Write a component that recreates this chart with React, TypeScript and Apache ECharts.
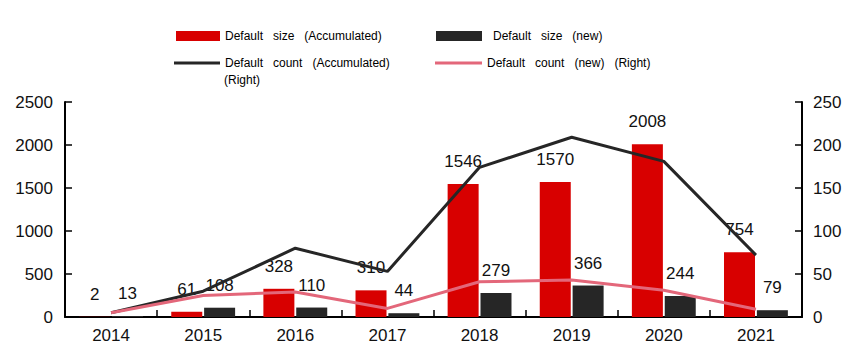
import React, { useEffect, useRef } from "react";
import * as echarts from "echarts";

const years = ["2014", "2015", "2016", "2017", "2018", "2019", "2020", "2021"];
const sizeAccumulated = [2, 61, 328, 310, 1546, 1570, 2008, 754];
const sizeNew = [13, 108, 110, 44, 279, 366, 244, 79];
const countAccumulated = [5, 30, 80, 53, 174, 209, 181, 72];
const countNew = [5, 25, 29, 10, 41, 43, 31, 9];

const NAME_SA = "Default   size   (Accumulated)";
const NAME_SN = "Default   size   (new)";
const NAME_CA = "Default   count   (Accumulated)";
const NAME_CN = "Default   count   (new)   (Right)";

const FONT = "Liberation Sans, Arial, sans-serif";
const RED = "#D80000";
const DARK = "#262626";
const PINK = "#E3677A";

export default function App() {
  const ref = useRef<HTMLDivElement>(null);
  useEffect(() => {
    if (!ref.current) return;
    document.body.style.margin = "0";
    const chart = echarts.init(ref.current, null, { renderer: "svg" });
    const legendText = { fontSize: 12, color: "#000", fontFamily: FONT };
    const labelStyle = {
      show: true,
      position: "top" as const,
      distance: 14,
      fontSize: 17,
      color: "#111",
      fontFamily: FONT,
    };
    const plain = (v: number) => String(v);
    chart.setOption({
      animation: false,
      backgroundColor: "#fff",
      legend: [
        {
          data: [{ name: NAME_SA, icon: "rect" }],
          left: 176,
          top: 30,
          padding: 0,
          itemWidth: 44,
          itemHeight: 10,
          textStyle: legendText,
        },
        {
          data: [{ name: NAME_SN, icon: "rect" }],
          left: 436,
          top: 30,
          padding: 0,
          itemWidth: 46,
          itemHeight: 10,
          textStyle: { ...legendText, padding: [0, 0, 0, 6] },
        },
        {
          data: [{ name: NAME_CA, icon: "rect" }],
          left: 174,
          top: 57,
          padding: 0,
          itemWidth: 46,
          itemHeight: 3,
          textStyle: legendText,
        },
        {
          data: [{ name: NAME_CN, icon: "rect" }],
          left: 435,
          top: 57,
          padding: 0,
          itemWidth: 47,
          itemHeight: 3,
          textStyle: legendText,
        },
      ],
      graphic: [
        {
          type: "text",
          left: 224,
          top: 74,
          style: { text: "(Right)", fontSize: 12, fill: "#000", fontFamily: FONT },
        },
      ],
      grid: { left: 65, right: 64, top: 102, bottom: 35 },
      xAxis: {
        type: "category",
        data: years,
        axisLine: { lineStyle: { color: "#000", width: 2 } },
        axisTick: { show: true, inside: true, length: 7, lineStyle: { color: "#000", width: 1.5 } },
        axisLabel: { color: "#111", fontSize: 17, fontFamily: FONT, margin: 10 },
      },
      yAxis: [
        {
          type: "value",
          min: 0,
          max: 2500,
          interval: 500,
          splitLine: { show: false },
          axisLine: { show: true, lineStyle: { color: "#000", width: 2 } },
          axisTick: { show: true, inside: true, length: 7, lineStyle: { color: "#000", width: 1.5 } },
          axisLabel: { color: "#111", fontSize: 17, fontFamily: FONT, margin: 12, formatter: plain },
        },
        {
          type: "value",
          min: 0,
          max: 250,
          interval: 50,
          splitLine: { show: false },
          axisLine: { show: true, lineStyle: { color: "#000", width: 2 } },
          axisTick: { show: true, inside: true, length: 7, lineStyle: { color: "#000", width: 1.5 } },
          axisLabel: { color: "#111", fontSize: 17, fontFamily: FONT, margin: 11, formatter: plain },
        },
      ],
      series: [
        {
          name: NAME_SA,
          type: "bar",
          data: sizeAccumulated,
          barWidth: 31,
          barGap: "6%",
          itemStyle: { color: RED },
          label: labelStyle,
        },
        {
          name: NAME_SN,
          type: "bar",
          data: sizeNew,
          barWidth: 31,
          itemStyle: { color: DARK },
          label: labelStyle,
        },
        {
          name: NAME_CA,
          type: "line",
          yAxisIndex: 1,
          data: countAccumulated,
          symbol: "none",
          lineStyle: { color: DARK, width: 3 },
          itemStyle: { color: DARK },
          z: 3,
        },
        {
          name: NAME_CN,
          type: "line",
          yAxisIndex: 1,
          data: countNew,
          symbol: "none",
          lineStyle: { color: PINK, width: 3 },
          itemStyle: { color: PINK },
          z: 3,
        },
      ],
    });
    return () => chart.dispose();
  }, []);
  return <div ref={ref} style={{ width: 866, height: 352 }} />;
}
